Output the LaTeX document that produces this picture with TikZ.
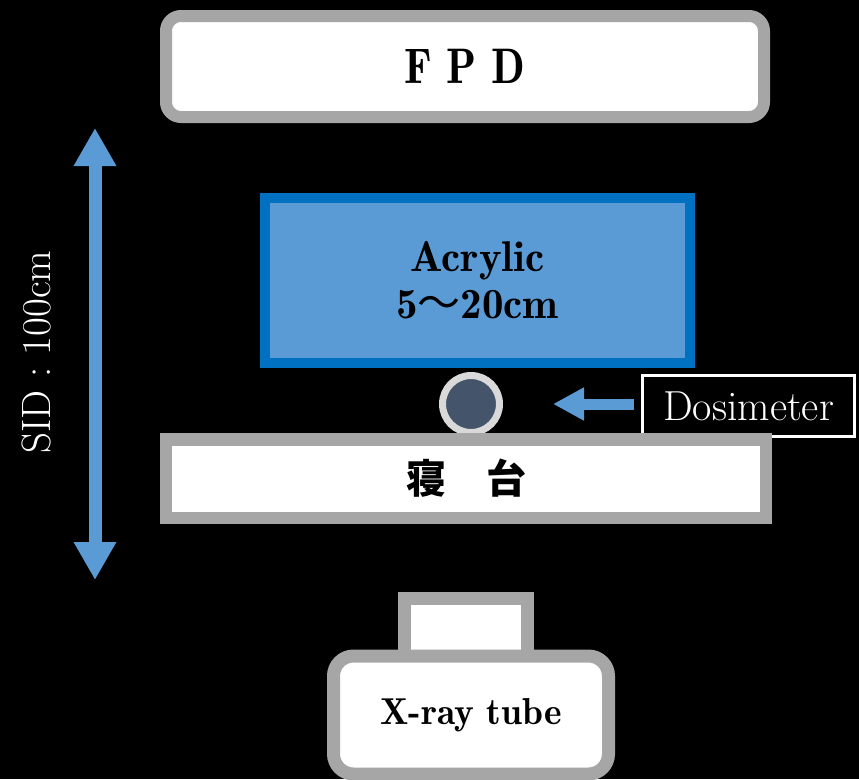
\documentclass[tikz,border=0pt]{standalone}
\usepackage{fontspec}
\usepackage{graphicx}
\usetikzlibrary{arrows.meta}
\newfontfamily\cjk{Noto Sans CJK JP}
\newfontfamily\semib{lmromandemi10-regular.otf}
\definecolor{bdgray}{HTML}{A6A6A6}
\definecolor{arrblue}{HTML}{5B9BD5}
\definecolor{acrborder}{HTML}{0070C0}
\definecolor{dosfill}{HTML}{44546A}
\definecolor{ringgray}{HTML}{D9D9D9}
\tikzset{
  graybox/.style={draw=bdgray, fill=white, rectangle, inner sep=0pt, text=black},
  bigarrow/.style={draw=arrblue, line width=#1},
}
\begin{document}
\begin{tikzpicture}[x=1pt, y=-1pt]
\fill[black] (0,0) rectangle (859,779);
\useasboundingbox (0,0) rectangle (859,779);

% FPD
\node[graybox, line width=12pt, rounded corners=15pt, minimum width=598pt, minimum height=101pt]
  (fpd) at (465,66.5) {\semib\fontsize{50}{55}\selectfont\scalebox{0.88}[1]{F\,\,P\,\,D}};

% Acrylic
\node[rectangle, draw=acrborder, fill=arrblue, line width=10pt, minimum width=425pt, minimum height=165pt,
  align=center, inner sep=0pt, text=black, font=\semib\fontsize{43}{47}\selectfont]
  (acr) at (477.5,280.5) {Acrylic\\5{\cjk ～}20cm};

% Dosimeter
\node[circle, draw=ringgray, fill=dosfill, line width=7pt, minimum size=57pt, inner sep=0pt]
  (det) at (471,404) {};
\node[rectangle, draw=white, fill=black, line width=3pt, minimum width=212pt, minimum height=61pt,
  inner sep=0pt, text=white, font=\fontsize{42}{46}\selectfont]
  (dos) at (748.5,406) {Dosimeter};
\coordinate (arrS) at (634,404);
\coordinate (arrE) at (553,404);
\draw[bigarrow=11pt, -{Triangle[length=31pt,width=31pt,fill=arrblue]}] (arrS) -- (arrE);

% Bed
\node[graybox, line width=12.5pt, minimum width=600pt, minimum height=78.5pt]
  (bed) at (466,478.5) {\cjk\bfseries\fontsize{40}{44}\selectfont 寝　台};

% X-ray tube
\node[graybox, line width=13pt, minimum width=123pt, minimum height=62pt]
  (tubetop) at (466,629.5) {};
\node[graybox, line width=13pt, rounded corners=20pt, minimum width=275pt, minimum height=118pt,
  font=\semib\fontsize{37.5}{40}\selectfont]
  (tube) at (471,715) {X-ray tube};

% SID arrow
\coordinate (sidT) at (95,128);
\coordinate (sidB) at (95,580);
\draw[bigarrow=13pt, {Triangle[length=38pt,width=40pt,fill=arrblue]}-{Triangle[length=38pt,width=40pt,fill=arrblue]}] (sidT) -- (sidB);
\node[rotate=90, text=white, font=\fontsize{41}{44}\selectfont, inner sep=0pt] (sid) at (36,352) {SID : 100cm};
\end{tikzpicture}
\end{document}
